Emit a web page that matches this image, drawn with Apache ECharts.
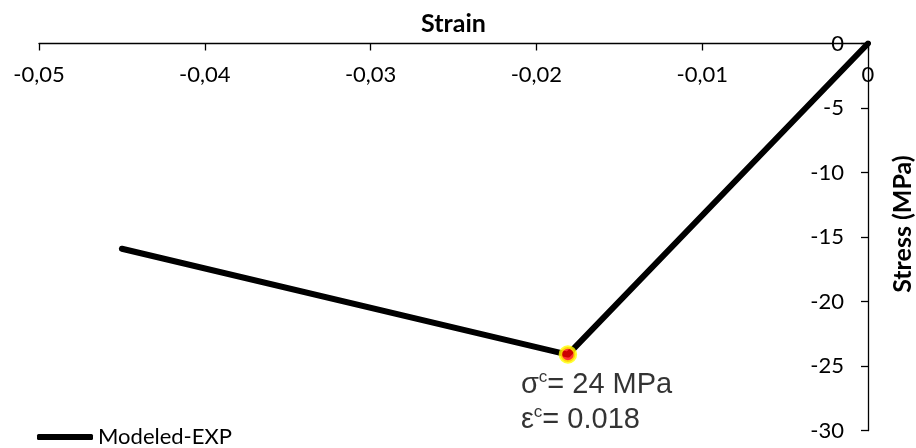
<!DOCTYPE html>
<html>
<head>
    <meta charset="utf-8" />
    <title>Stress - Strain</title>
    <script src="https://cdn.jsdelivr.net/npm/echarts@6/dist/echarts.min.js"></script>
    <style>
        html, body { margin: 0; padding: 0; background: #fff; }
        #container { width: 916px; height: 448px; }
    </style>
</head>
<body>
    <div id="container"></div>
    <script>
        // data
        var strain = [0, -0.0181, -0.045];
        var stress = [0, -24.1, -15.9];
        var peakStrain = [-0.0181];
        var peakStress = [-24.1];
        var peakText = ['24 MPa', '0.018'];
        var xTicks = [-0.05, -0.04, -0.03, -0.02, -0.01, 0];
        var yTicks = [-30, -25, -20, -15, -10, -5, 0];
        var seriesName = 'Modeled-EXP';

        var font = 'Lato';
        var dom = document.getElementById('container');
        var myChart = echarts.init(dom);

        var lineData = strain.map(function (x, i) { return [x, stress[i]]; });
        var peakData = peakStrain.map(function (x, i) { return [x, peakStress[i]]; });

        var option = {
            animation: false,
            backgroundColor: '#fff',
            grid: {
                left: 39,
                right: 48,
                top: 43.5,
                bottom: 17.3,
                outerBoundsMode: 'none'
            },
            legend: {
                data: [seriesName],
                left: 32,
                top: 421,
                icon: 'roundRect',
                itemWidth: 56,
                itemHeight: 6,
                itemStyle: { color: '#000' },
                textStyle: { fontFamily: font, fontSize: 22, color: '#000' }
            },
            xAxis: {
                type: 'value',
                position: 'top',
                min: xTicks[0],
                max: xTicks[xTicks.length - 1],
                interval: xTicks[1] - xTicks[0],
                name: 'Strain',
                nameLocation: 'middle',
                nameGap: 7,
                nameTextStyle: { fontFamily: font, fontSize: 25, fontWeight: 'bold', color: '#000' },
                axisLine: { onZero: false, lineStyle: { color: '#000', width: 1.3 } },
                axisTick: { show: true, inside: true, length: 7, lineStyle: { color: '#000', width: 1.3 } },
                axisLabel: {
                    inside: true,
                    margin: 20,
                    fontFamily: font,
                    fontSize: 22,
                    color: '#000',
                    formatter: function (v) {
                        if (Math.abs(v) < 1e-9) return '0';
                        return v.toFixed(2).replace('.', ',');
                    }
                },
                splitLine: { show: false }
            },
            yAxis: {
                type: 'value',
                position: 'right',
                min: yTicks[0],
                max: yTicks[yTicks.length - 1],
                interval: yTicks[1] - yTicks[0],
                name: 'Stress (MPa)',
                nameLocation: 'middle',
                nameRotate: 90,
                nameGap: 22,
                nameTextStyle: {
                    fontFamily: font, fontSize: 25, fontWeight: 'bold', color: '#000',
                    padding: [0, 0, 0, 26]
                },
                axisLine: { onZero: false, lineStyle: { color: '#000', width: 1.3 } },
                axisTick: { show: true, inside: true, length: 7, lineStyle: { color: '#000', width: 1.3 } },
                axisLabel: {
                    inside: true,
                    margin: 24,
                    fontFamily: font,
                    fontSize: 22,
                    color: '#000'
                },
                splitLine: { show: false }
            },
            series: [
                {
                    name: seriesName,
                    type: 'line',
                    data: lineData,
                    symbol: 'none',
                    lineStyle: { color: '#000', width: 6, cap: 'round', join: 'round' },
                    itemStyle: { color: '#000' },
                    z: 2
                },
                {
                    name: 'peak',
                    type: 'scatter',
                    data: peakData,
                    symbol: 'circle',
                    symbolSize: 15,
                    itemStyle: { color: '#ff0000', borderColor: '#ffff00', borderWidth: 3.5 },
                    z: 3,
                    label: {
                        show: true,
                        position: 'bottom',
                        distance: 0,
                        align: 'left',
                        offset: [-47, 4],
                        formatter: '{b|σ}{s|c}{b|= ' + peakText[0] + '}\n{b|ε}{s|c}{b|= ' + peakText[1] + '}',
                        rich: {
                            b: { fontFamily: 'Liberation Sans', fontSize: 29, color: '#000', lineHeight: 35 },
                            s: { fontFamily: 'Liberation Sans', fontSize: 17, color: '#000', lineHeight: 35, padding: [0, 0, 15, 0] }
                        }
                    }
                }
            ]
        };

        myChart.setOption(option);
    </script>
</body>
</html>
